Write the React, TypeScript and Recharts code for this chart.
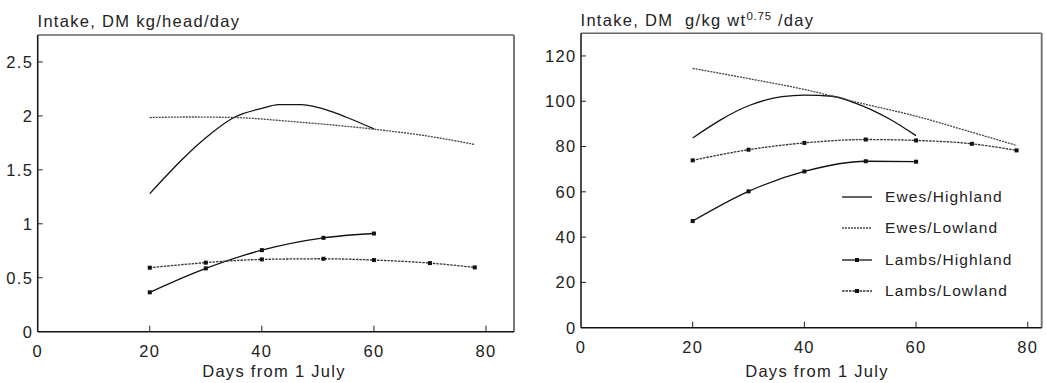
import { LineChart, Line, XAxis, YAxis, ReferenceLine } from 'recharts';

const FONT = '"Liberation Sans", Arial, Helvetica, sans-serif';

// x values are days from 1 July
const xTicks = [0, 20, 40, 60, 80];

// left panel: kg/head/day
const kgTicks = [0, 0.5, 1, 1.5, 2, 2.5];
const ewesHighDaysKg = [20, 31, 35, 40, 43, 47, 52.5, 55, 60];
const ewesHighKg = [1.28, 1.84, 1.985, 2.07, 2.105, 2.105, 2.04, 1.99, 1.88];
const ewesLowDaysKg = [20, 27, 35, 46, 60, 70, 78];
const ewesLowKg = [1.985, 1.99, 1.985, 1.945, 1.877, 1.81, 1.735];
const lambsHighDaysKg = [20, 30, 40, 51, 60];
const lambsHighKg = [0.365, 0.587, 0.756, 0.87, 0.91];
const lambsLowDaysKg = [20, 30, 40, 51, 60, 70, 78];
const lambsLowKg = [0.593, 0.64, 0.67, 0.676, 0.664, 0.636, 0.596];

// right panel: g/kg wt^0.75/day
const gTicks = [0, 20, 40, 60, 80, 100, 120];
const ewesHighDaysG = [20, 30, 33, 36, 40, 45, 49, 55, 60];
const ewesHighG = [83.8, 98, 100.5, 102, 102.7, 102.2, 99.3, 92.5, 84.8];
const ewesLowDaysG = [20, 30, 40, 50, 60, 70, 78];
const ewesLowG = [114.5, 110, 105.2, 99.2, 93.4, 86.3, 80.5];
const lambsHighDaysG = [20, 30, 40, 51, 60];
const lambsHighG = [47.1, 60.2, 69, 73.5, 73.3];
const lambsLowDaysG = [20, 30, 40, 51, 60, 70, 78];
const lambsLowG = [73.9, 78.6, 81.6, 83.1, 82.7, 81.2, 78.3];

const seriesNames = ['Ewes/Highland', 'Ewes/Lowland', 'Lambs/Highland', 'Lambs/Lowland'];

const toPoints = (days: number[], vals: number[]) => days.map((d, i) => ({ day: d, v: vals[i] }));

const styles = [
  { stroke: '#111', dash: undefined, marker: false },
  { stroke: '#444', dash: '2 1', marker: false },
  { stroke: '#111', dash: undefined, marker: true },
  { stroke: '#333', dash: '2.5 1', marker: true },
];

const SquareDot = (props: any) => {
  const { cx, cy, index } = props;
  if (cx == null || cy == null) return <g key={index} />;
  return <rect key={index} x={cx - 2} y={cy - 2} width={4} height={4} fill="#111" />;
};

const makeYTick = (margin: number) => (props: any) => {
  const { x, y, payload } = props;
  return (
    <g>
      <text x={x} y={y} dy="0.36em" textAnchor="end" fontSize={16.5} letterSpacing={1.3} fill="#222" fontFamily={FONT}>
        {payload.value}
      </text>
      {payload.value !== 0 && (
        <line x1={x + margin} x2={x + margin + 5} y1={y} y2={y} stroke="#222" strokeWidth={1} />
      )}
    </g>
  );
};

const makeXTick = (margin: number) => (props: any) => {
  const { x, y, payload } = props;
  return (
    <g>
      <text x={x} y={y} dy="0.71em" textAnchor="middle" fontSize={16.5} letterSpacing={1.3} fill="#222" fontFamily={FONT}>
        {payload.value}
      </text>
      {payload.value !== 0 && (
        <line x1={x} x2={x} y1={y - margin} y2={y - margin - 6} stroke="#222" strokeWidth={1} />
      )}
    </g>
  );
};

interface PanelProps {
  width: number;
  top: number;
  right: number;
  yWidth: number;
  xHeight: number;
  xMax: number;
  yMax: number;
  yTicks: number[];
  series: { day: number; v: number }[][];
}

function Panel({ width, top, right, yWidth, xHeight, xMax, yMax, yTicks, series }: PanelProps) {
  return (
    <LineChart width={width} height={383} margin={{ top, right, bottom: 0, left: 0 }}>
      <XAxis
        type="number"
        dataKey="day"
        domain={[0, xMax]}
        ticks={xTicks}
        height={xHeight}
        tickSize={0}
        tickMargin={13.5}
        tickLine={false}
        tick={makeXTick(13.5)}
        axisLine={{ stroke: '#111', strokeWidth: 1.5 }}
        allowDataOverflow
      />
      <YAxis
        type="number"
        domain={[0, yMax]}
        ticks={yTicks}
        width={yWidth}
        tickSize={0}
        tickMargin={4.5}
        tickLine={false}
        tick={makeYTick(4.5)}
        axisLine={{ stroke: '#111', strokeWidth: 1.5 }}
        allowDataOverflow
      />
      <ReferenceLine y={yMax} stroke="#666" strokeWidth={1.5} />
      <ReferenceLine x={xMax} stroke="#777" strokeWidth={2} />
      {series.map((data, i) => (
        <Line
          key={seriesNames[i]}
          name={seriesNames[i]}
          data={data}
          dataKey="v"
          type="monotone"
          stroke={styles[i].stroke}
          strokeWidth={1.3}
          strokeDasharray={styles[i].dash}
          dot={styles[i].marker ? SquareDot : false}
          activeDot={false}
          isAnimationActive={false}
        />
      ))}
    </LineChart>
  );
}

const textStyle = {
  position: 'absolute' as const,
  fontFamily: FONT,
  fontSize: 16.5,
  letterSpacing: 1.3,
  lineHeight: '16px',
  color: '#222',
  whiteSpace: 'pre' as const,
};

export default function App() {
  const kgSeries = [
    toPoints(ewesHighDaysKg, ewesHighKg),
    toPoints(ewesLowDaysKg, ewesLowKg),
    toPoints(lambsHighDaysKg, lambsHighKg),
    toPoints(lambsLowDaysKg, lambsLowKg),
  ];
  const gSeries = [
    toPoints(ewesHighDaysG, ewesHighG),
    toPoints(ewesLowDaysG, ewesLowG),
    toPoints(lambsHighDaysG, lambsHighG),
    toPoints(lambsLowDaysG, lambsLowG),
  ];

  return (
    <div style={{ position: 'fixed', left: 0, top: 0, width: 1046, height: 383, background: '#fff', overflow: 'hidden' }}>
      <div style={{ position: 'absolute', left: 0, top: 0 }}>
        <Panel width={520} top={35} right={6} yWidth={37.7} xHeight={51.3} xMax={85} yMax={2.75} yTicks={kgTicks} series={kgSeries} />
      </div>
      <div style={{ position: 'absolute', left: 520, top: 0 }}>
        <Panel width={526} top={33.3} right={4.3} yWidth={61} xHeight={55.3} xMax={82.5} yMax={130} yTicks={gTicks} series={gSeries} />
      </div>

      <div style={{ ...textStyle, left: 37.5, top: 13 }}>Intake, DM kg/head/day</div>
      <div style={{ ...textStyle, left: 580.5, top: 12 }}>
        {'Intake, DM  g/kg wt'}
        <span style={{ fontSize: 11.5, position: 'relative', top: -6, letterSpacing: 0.8 }}>0.75</span>
        {' /day'}
      </div>

      <div style={{ ...textStyle, left: 274, top: 363, transform: 'translateX(-50%)' }}>Days from 1 July</div>
      <div style={{ ...textStyle, left: 817, top: 362.5, transform: 'translateX(-50%)' }}>Days from 1 July</div>

      <div style={{ position: 'absolute', left: 842, top: 181 }}>
        {seriesNames.map((name, i) => (
          <div key={name} style={{ display: 'flex', alignItems: 'center', height: 31.5 }}>
            <svg width={43} height={12} style={{ display: 'block' }}>
              <line x1={0} x2={30} y1={6} y2={6} stroke={styles[i].stroke} strokeWidth={1.3} strokeDasharray={styles[i].dash} />
              {styles[i].marker && <rect x={13} y={4} width={4} height={4} fill="#111" />}
            </svg>
            <span style={{ fontFamily: FONT, fontSize: 15.5, letterSpacing: 1.1, color: '#222', lineHeight: '16px' }}>{name}</span>
          </div>
        ))}
      </div>
    </div>
  );
}
